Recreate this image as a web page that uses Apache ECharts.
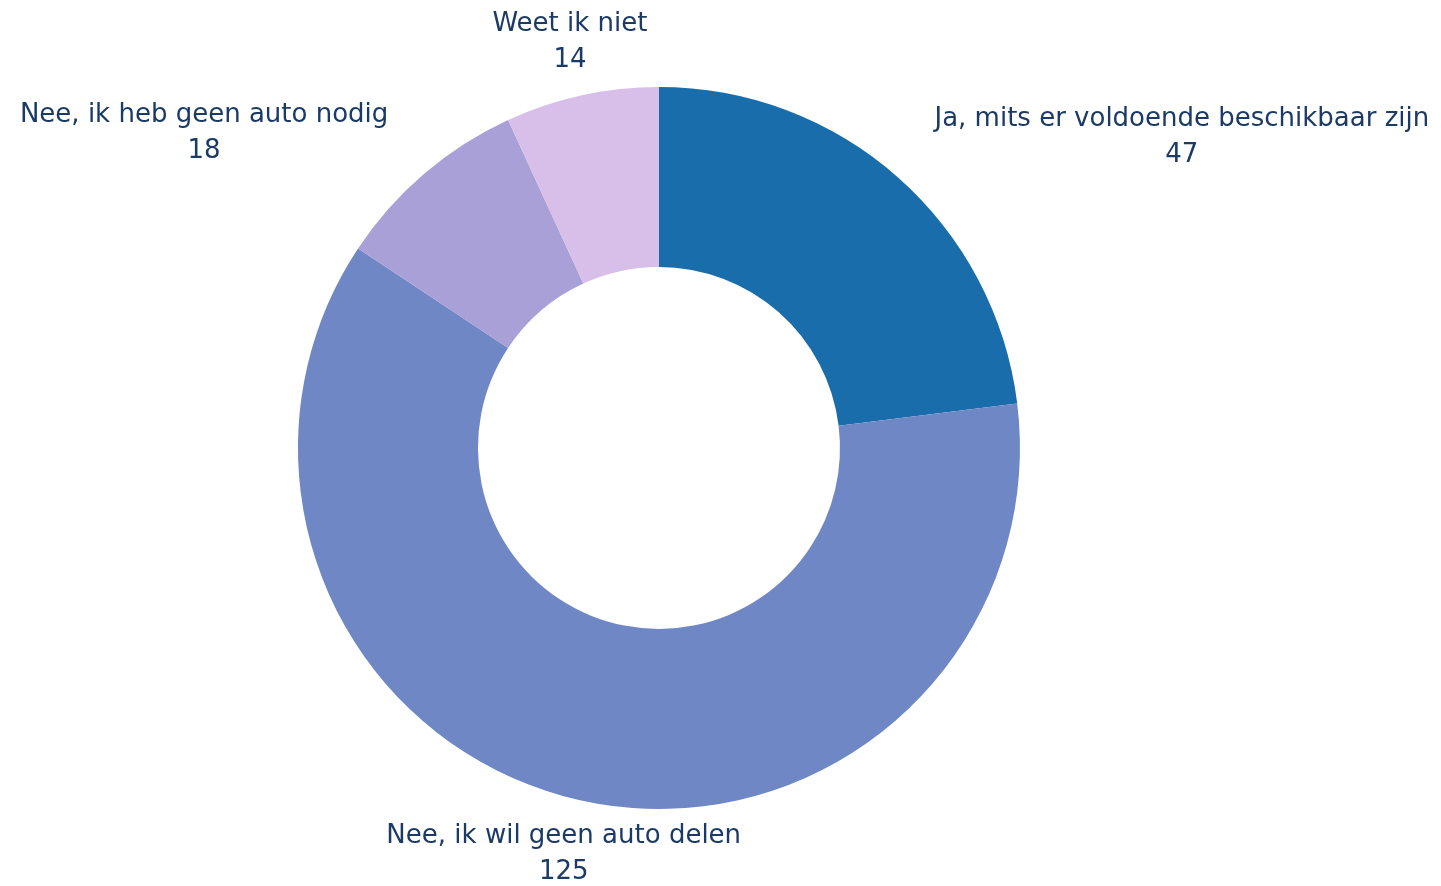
<!DOCTYPE html>
<html>
<head>
<meta charset="utf-8">
<title>Autodelen</title>
<script src="https://cdn.jsdelivr.net/npm/echarts@6/dist/echarts.min.js"></script>
<style>
  html, body { margin: 0; padding: 0; background: #ffffff; }
  #chart { width: 1441px; height: 886px; }
</style>
</head>
<body>
<div id="chart"></div>
<script>
// Answers and counts, clockwise from the top
const categories = [
  'Ja, mits er voldoende beschikbaar zijn',
  'Nee, ik wil geen auto delen',
  'Nee, ik heb geen auto nodig',
  'Weet ik niet'
];
const counts = [47, 125, 18, 14];
const sliceColors = ['#1a6dab', '#6f87c4', '#a8a0d6', '#d7bfea'];

const CENTER_X = 0.4573;   // fraction of width
const CENTER_Y = 0.5056;   // fraction of height
const OUTER_R = 361;
const INNER_R = 181;
const LABEL_GAP = 55;      // distance of label anchor beyond the outer edge

const chart = echarts.init(document.getElementById('chart'), null, { renderer: 'canvas' });
const total = counts.reduce((a, b) => a + b, 0);

function midAngle(i) {
  let before = 0;
  for (let k = 0; k < i; k++) before += counts[k];
  return (before + counts[i] / 2) / total * Math.PI * 2;
}

chart.setOption({
  backgroundColor: '#ffffff',
  color: sliceColors,
  animation: false,
  series: [{
    type: 'pie',
    center: [(CENTER_X * 100) + '%', (CENTER_Y * 100) + '%'],
    radius: [INNER_R, OUTER_R],
    startAngle: 90,
    clockwise: true,
    avoidLabelOverlap: false,
    itemStyle: { borderWidth: 0 },
    label: {
      show: true,
      position: 'outside',
      formatter: '{b}\n{c}',
      color: '#1b3a66',
      fontFamily: 'DejaVu Sans',
      fontSize: 26,
      lineHeight: 36
    },
    labelLine: { show: false },
    labelLayout: function (p) {
      const a = midAngle(p.dataIndex);
      const cx = chart.getWidth() * CENTER_X;
      const cy = chart.getHeight() * CENTER_Y;
      const r = OUTER_R + LABEL_GAP;
      const ax = cx + r * Math.sin(a);
      const ay = cy - r * Math.cos(a) + 1;
      const s = Math.sin(a);
      const w = p.labelRect.width;
      let x = ax;
      if (s > 0.5) x = ax + w / 2;
      else if (s < -0.5) x = ax - w / 2;
      return { x: x, y: ay, align: 'center', verticalAlign: 'middle' };
    },
    data: categories.map((name, i) => ({ name: name, value: counts[i] }))
  }]
});
</script>
</body>
</html>
